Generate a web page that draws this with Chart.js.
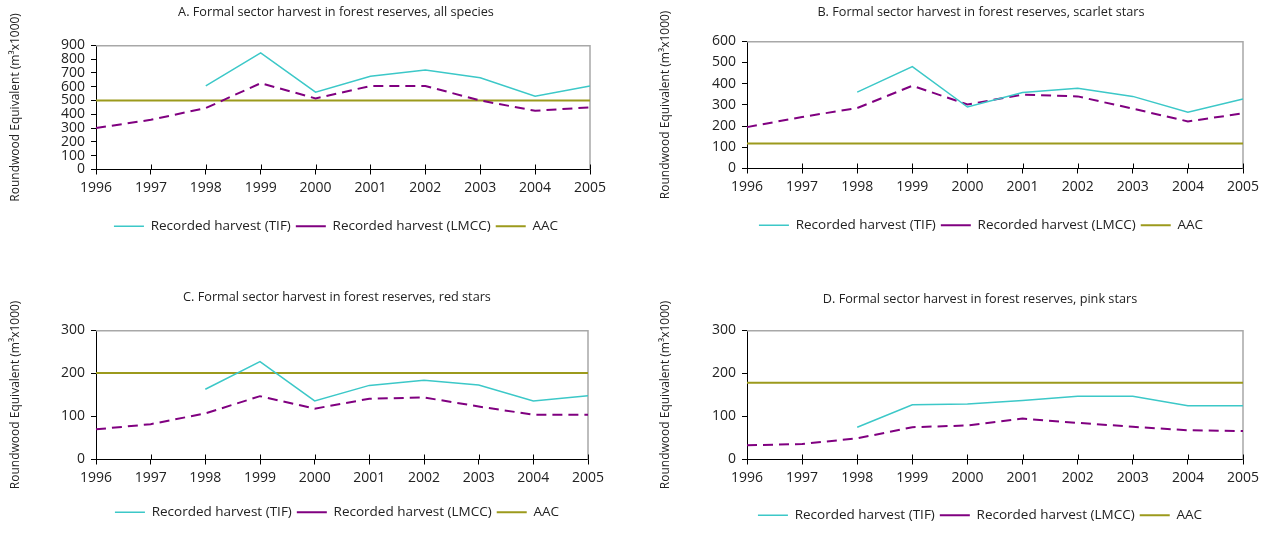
<!DOCTYPE html>
<html><head><meta charset="utf-8">
<script src="https://cdn.jsdelivr.net/npm/chart.js@4.4.1/dist/chart.umd.min.js"></script>
<style>
html,body{margin:0;padding:0;background:#fff;width:1263px;height:544px;overflow:hidden;position:relative}
.p{position:absolute}
canvas{display:block}
</style></head><body>
<div class="p" style="left:0px;top:0px"><canvas id="cA" width="672" height="250"></canvas></div>
<div class="p" style="left:640px;top:0px"><canvas id="cB" width="682" height="250"></canvas></div>
<div class="p" style="left:0px;top:285px"><canvas id="cC" width="674" height="259"></canvas></div>
<div class="p" style="left:640px;top:285px"><canvas id="cD" width="680" height="259"></canvas></div>
<script>
const years = ['1996','1997','1998','1999','2000','2001','2002','2003','2004','2005'];
const seriesNames = ['Recorded harvest (TIF)','Recorded harvest (LMCC)','AAC'];
const yTitle = 'Roundwood Equivalent (m³x1000)';

const titleA = 'A. Formal sector harvest in forest reserves, all species';
const tifA  = [null,null,605,845,560,675,720,665,530,605];
const lmccA = [300,360,445,625,515,605,605,500,425,450];
const aacA  = [500,500,500,500,500,500,500,500,500,500];

const titleB = 'B. Formal sector harvest in forest reserves, scarlet stars';
const tifB  = [null,null,360,480,290,358,378,340,265,328];
const lmccB = [195,243,285,390,302,348,340,282,222,260];
const aacB  = [118,118,118,118,118,118,118,118,118,118];

const titleC = 'C. Formal sector harvest in forest reserves, red stars';
const tifC  = [null,null,163,227,136,172,184,173,136,148];
const lmccC = [70,82,107,147,118,141,144,123,104,104];
const aacC  = [201,201,201,201,201,201,201,201,201,201];

const titleD = 'D. Formal sector harvest in forest reserves, pink stars';
const tifD  = [null,null,75,127,129,137,147,147,125,125];
const lmccD = [33,36,49,75,79,95,85,76,68,66];
const aacD  = [178,178,178,178,178,178,178,178,178,178];

const FONT = "'Open Sans', sans-serif";
const TEXT = '#222';

const framePlugin = {
  id: 'frame',
  beforeDatasetsDraw(chart) {
    const {ctx, chartArea: {left, right, top, bottom}, scales: {x}} = chart;
    ctx.save();
    ctx.strokeStyle = '#a8a8a8';
    ctx.lineWidth = 1.5;
    ctx.beginPath();
    ctx.moveTo(left, top + 0.5);
    ctx.lineTo(right, top + 0.5);
    ctx.lineTo(right, bottom);
    ctx.stroke();
    ctx.strokeStyle = '#000';
    ctx.lineWidth = 1;
    ctx.beginPath();
    x.ticks.forEach((t, i) => {
      const px = Math.round(x.getPixelForTick(i)) + 0.5;
      ctx.moveTo(px, bottom);
      ctx.lineTo(px, bottom - 5);
    });
    ctx.stroke();
    ctx.restore();
  }
};

function makeChart(id, o) {
  new Chart(document.getElementById(id), {
    type: 'line',
    data: {
      labels: years,
      datasets: [
        {label: seriesNames[0], data: o.tif, borderColor: '#3cc8c8', backgroundColor: '#3cc8c8', borderWidth: 1.5, pointRadius: 0, tension: 0},
        {label: seriesNames[1], data: o.lmcc, borderColor: '#800080', backgroundColor: '#800080', borderWidth: 2, borderDash: [10, 6], pointRadius: 0, tension: 0},
        {label: seriesNames[2], data: o.aac, borderColor: '#9c9a1c', backgroundColor: '#9c9a1c', borderWidth: 2, pointRadius: 0, tension: 0}
      ]
    },
    options: {
      responsive: false,
      animation: false,
      devicePixelRatio: 1,
      layout: {padding: {left: 0, right: 0, top: 0, bottom: o.bottomPad}},
      plugins: {
        tooltip: {enabled: false},
        title: {display: true, text: o.title, color: TEXT, font: {family: FONT, size: 12.7, weight: 'normal'}, padding: {top: o.titleTop, bottom: o.titleBottom}},
        legend: {
          position: 'bottom',
          labels: {usePointStyle: true, pointStyle: 'line', pointStyleWidth: 30, color: TEXT, font: {family: FONT, size: 13.5}, padding: 5}
        }
      },
      scales: {
        x: {
          offset: false,
          grid: {drawOnChartArea: false, color: '#000', tickLength: 5},
          border: {color: '#000', width: 1},
          ticks: {color: TEXT, font: {family: FONT, size: 14}, padding: 5, maxRotation: 0, autoSkip: false},
          afterFit(s) { s.height = o.xHeight; }
        },
        y: {
          min: 0, max: o.max,
          grid: {drawOnChartArea: false, color: '#000', tickLength: 5},
          border: {color: '#000', width: 1},
          ticks: {stepSize: 100, autoSkip: false, color: TEXT, font: {family: FONT, size: 14}, padding: 6},
          title: {display: true, text: yTitle, color: TEXT, font: {family: FONT, size: 12}, padding: {top: o.yTitlePad, bottom: 0}},
          afterFit(s) { s.width = o.yWidth; }
        },
        yR: {
          position: 'right',
          display: true,
          grid: {display: false, drawTicks: false},
          border: {display: false},
          ticks: {display: false},
          afterFit(s) { s.width = o.rightPad; }
        }
      }
    },
    plugins: [framePlugin]
  });
}

makeChart('cA', {title: titleA, tif: tifA, lmcc: lmccA, aac: aacA, max: 900, rightPad: 82, bottomPad: 7, titleTop: 5, titleBottom: 25, xHeight: 45, yWidth: 96, yTitlePad: 8});
makeChart('cB', {title: titleB, tif: tifB, lmcc: lmccB, aac: aacB, max: 600, rightPad: 79, bottomPad: 8, titleTop: 5, titleBottom: 21, xHeight: 45, yWidth: 107, yTitlePad: 18});
makeChart('cC', {title: titleC, tif: tifC, lmcc: lmccC, aac: aacC, max: 300, rightPad: 86, bottomPad: 15, titleTop: 5, titleBottom: 25, xHeight: 41, yWidth: 96, yTitlePad: 8});
makeChart('cD', {title: titleD, tif: tifD, lmcc: lmccD, aac: aacD, max: 300, rightPad: 77, bottomPad: 12, titleTop: 7, titleBottom: 23, xHeight: 44, yWidth: 107, yTitlePad: 18});
</script>
</body></html>
